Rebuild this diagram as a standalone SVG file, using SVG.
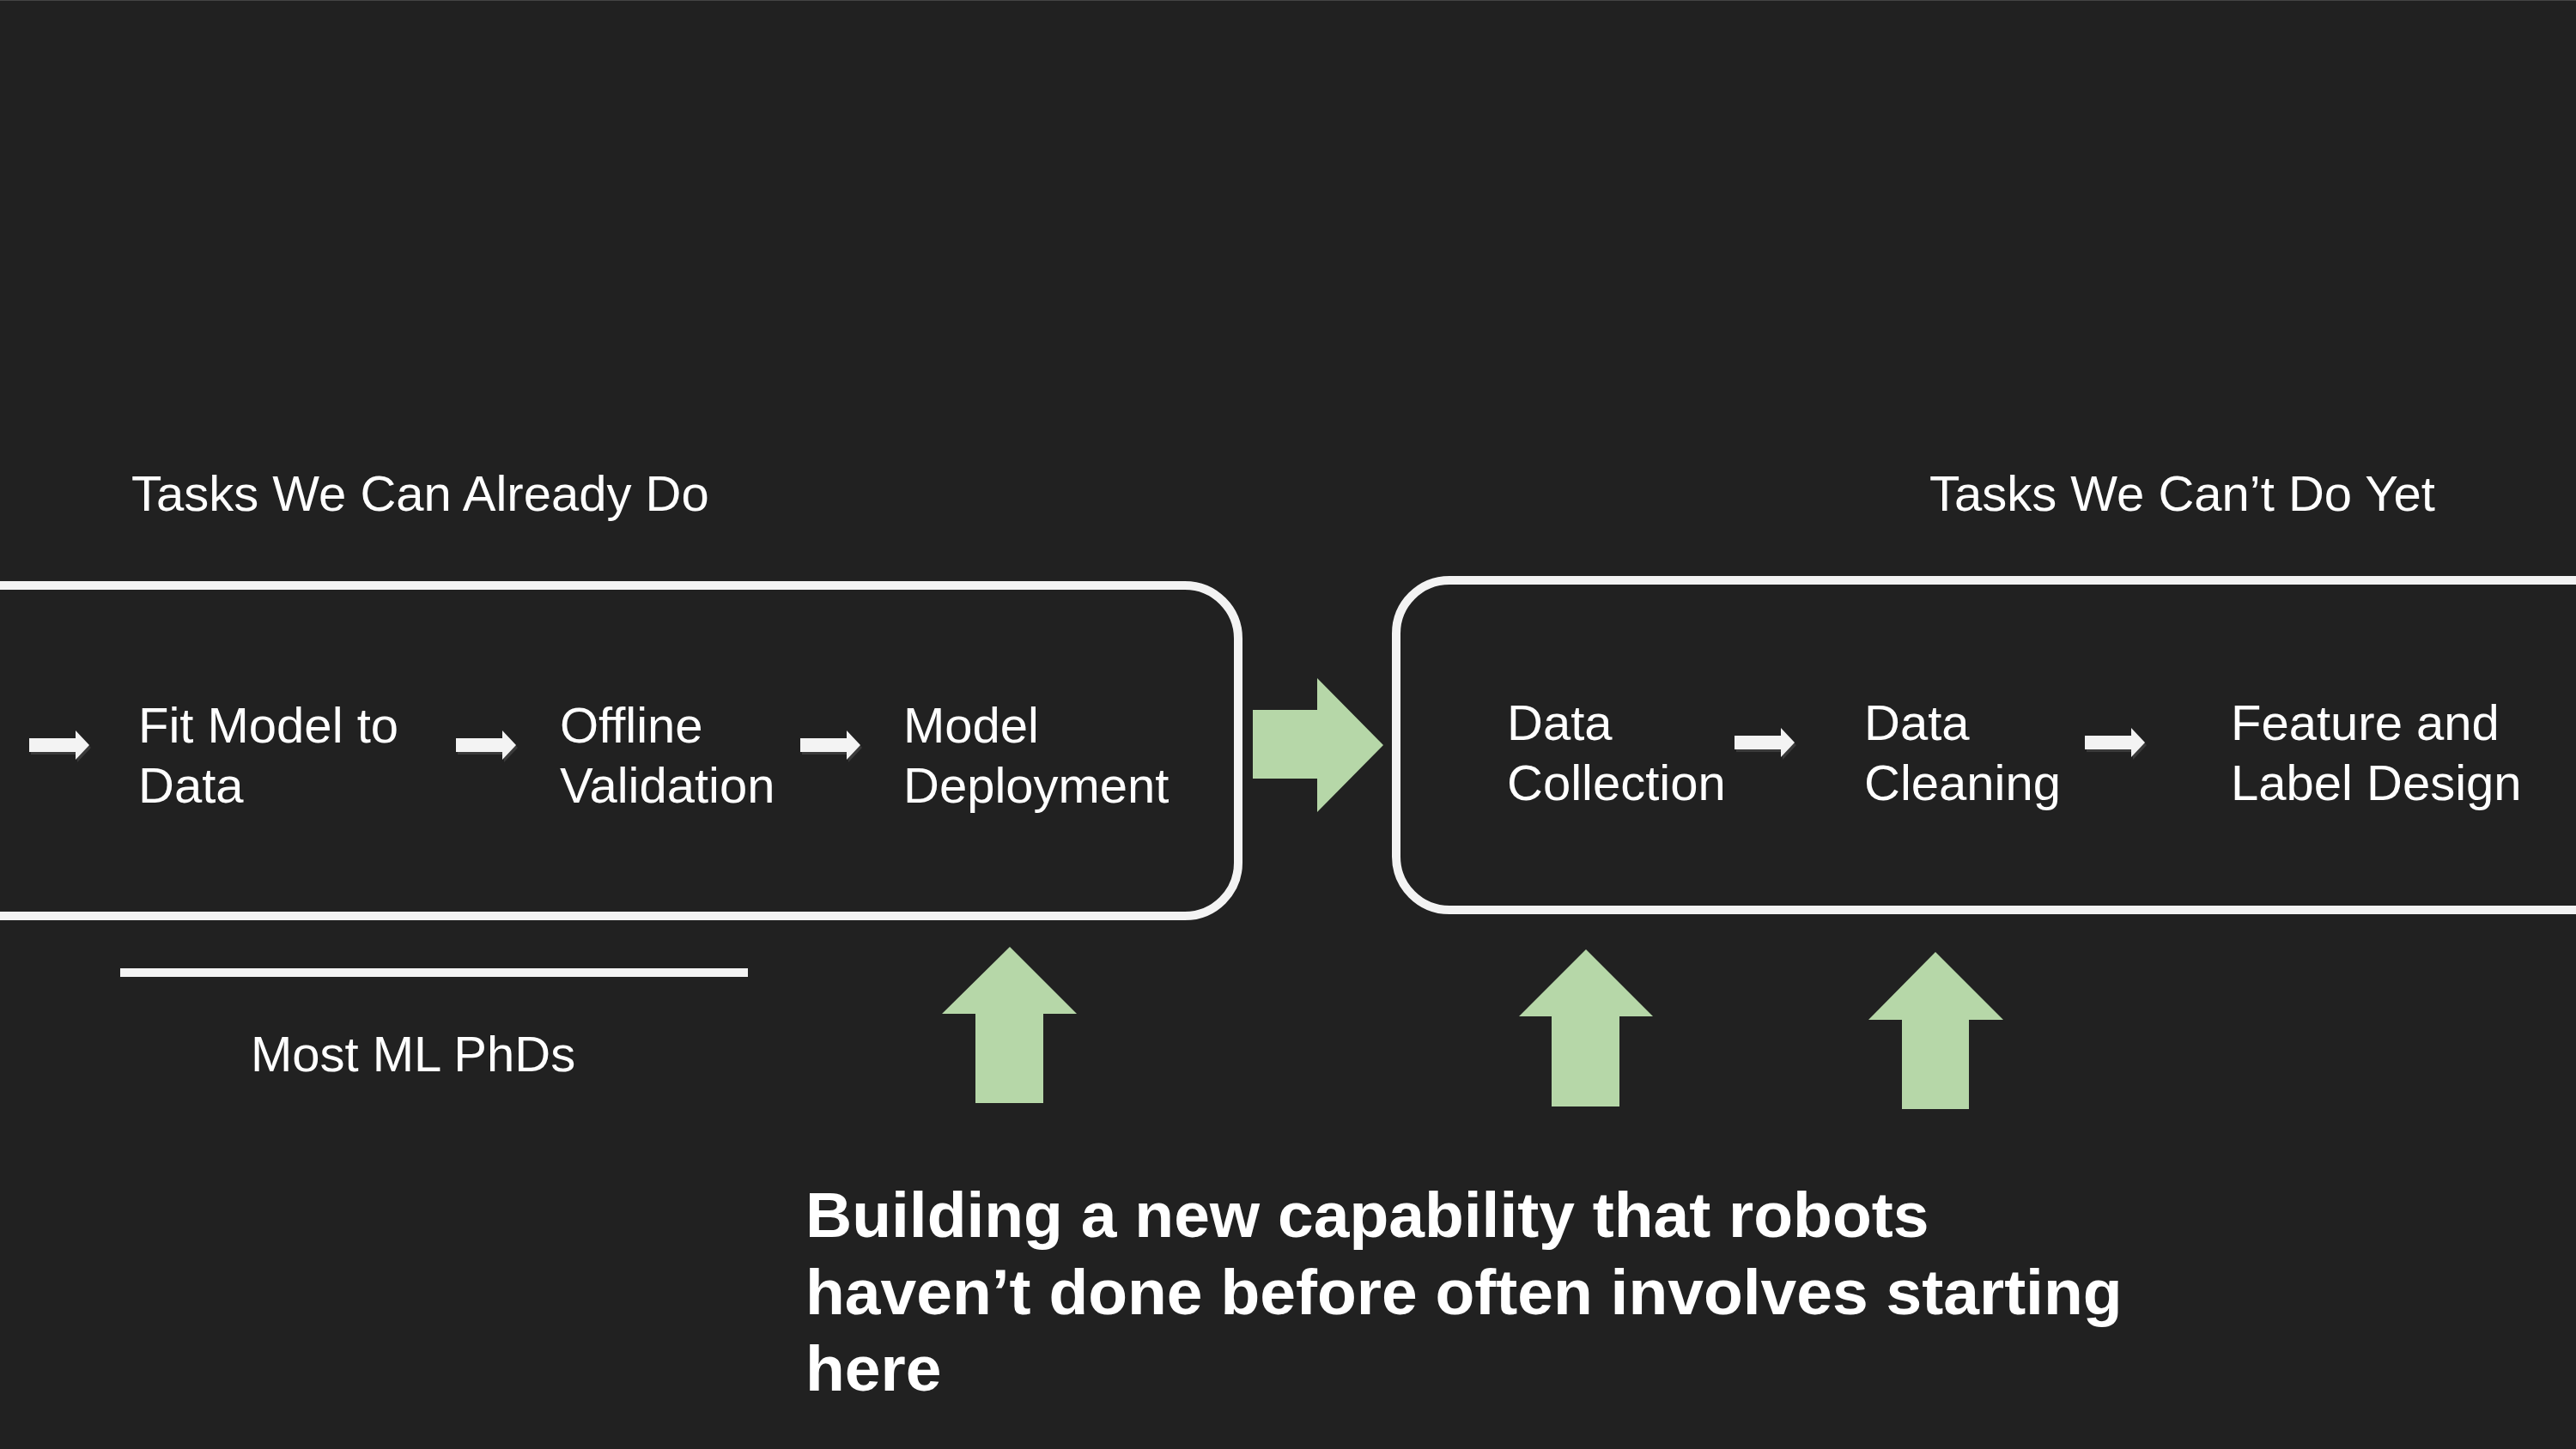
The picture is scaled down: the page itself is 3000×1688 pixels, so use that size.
<svg xmlns="http://www.w3.org/2000/svg" width="3000" height="1688" viewBox="0 0 3000 1688">
  <style>
    .t { font-family: "Liberation Sans", Arial, sans-serif; font-size: 58px; fill: #ffffff; }
    .b { font-family: "Liberation Sans", Arial, sans-serif; font-size: 75px; font-weight: bold; fill: #ffffff; }
    .box { fill: none; stroke: #f3f3f3; stroke-width: 10; }
    .sa { fill: #f3f3f3; }
    .ss { fill: #3a3a3a; }
    .ga { fill: #b6d7a8; }
  </style>
  <defs>
    <path id="small" d="M0,-8 H54 V-17 L70,0 L54,17 V8 H0 Z"/>
    <g id="smallArrow">
      <use href="#small" class="ss" x="2" y="3"/>
      <use href="#small" class="sa"/>
    </g>
  </defs>
  <rect x="0" y="0" width="3000" height="1688" fill="#212121"/>
  <rect x="0" y="0" width="3000" height="1" fill="#444444"/>

  <g id="header-left"><text class="t" x="153" y="595">Tasks We Can Already Do</text></g>
  <g id="header-right"><text class="t" x="2247" y="595">Tasks We Can’t Do Yet</text></g>

  <g id="box-left"><rect class="box" x="-100" y="682" width="1542" height="385" rx="62" ry="62"/></g>
  <g id="box-right"><rect class="box" x="1626" y="676" width="1500" height="384" rx="62" ry="62"/></g>

  <g id="node-fit"><text class="t" x="161" y="865">Fit Model to</text><text class="t" x="161" y="935">Data</text></g>
  <g id="node-offline"><text class="t" x="652" y="865">Offline</text><text class="t" x="652" y="935">Validation</text></g>
  <g id="node-deploy"><text class="t" x="1052" y="865">Model</text><text class="t" x="1052" y="935">Deployment</text></g>
  <g id="node-collection"><text class="t" x="1755" y="862">Data</text><text class="t" x="1755" y="932">Collection</text></g>
  <g id="node-cleaning"><text class="t" x="2171" y="862">Data</text><text class="t" x="2171" y="932">Cleaning</text></g>
  <g id="node-feature"><text class="t" x="2598" y="862">Feature and</text><text class="t" x="2598" y="932">Label Design</text></g>

  <g id="connectors">
    <use href="#smallArrow" x="34" y="868"/>
    <use href="#smallArrow" x="531" y="868"/>
    <use href="#smallArrow" x="932" y="868"/>
    <use href="#smallArrow" x="2020" y="865"/>
    <use href="#smallArrow" x="2428" y="865"/>
    <path class="ga" d="M1459,827 H1534 V790 L1611,868 L1534,946 V907 H1459 Z"/>
    <path class="ga" d="M1136,1285 V1181 H1097 L1176,1103 L1254,1181 H1215 V1285 Z"/>
    <path class="ga" d="M1807,1289 V1184 H1769 L1847,1106 L1925,1184 H1886 V1289 Z"/>
    <path class="ga" d="M2215,1292 V1188 H2176 L2254,1109 L2333,1188 H2293 V1292 Z"/>
  </g>

  <g id="phd-group">
    <rect x="140" y="1128" width="731" height="10" fill="#f3f3f3"/>
    <text class="t" x="292" y="1248">Most ML PhDs</text>
  </g>

  <g id="caption">
    <text class="b" x="938" y="1441">Building a new capability that robots</text>
    <text class="b" x="938" y="1531">haven’t done before often involves starting</text>
    <text class="b" x="938" y="1620">here</text>
  </g>
</svg>
